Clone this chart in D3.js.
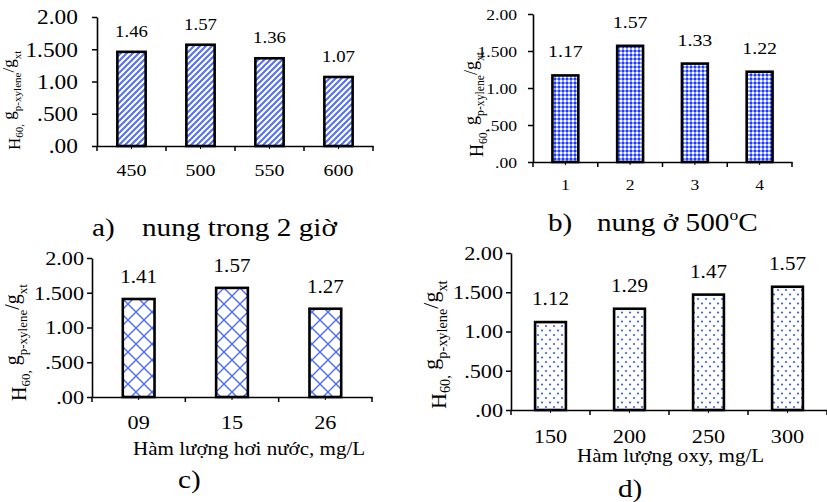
<!DOCTYPE html>
<html><head><meta charset="utf-8">
<script src="https://cdn.jsdelivr.net/npm/d3@7"></script>
<style>html,body{margin:0;padding:0;background:#fff;}svg{display:block;}</style>
</head><body>
<svg id="chart" width="827" height="502"></svg>
<script>
// ---- data ----
const catsA = ["450", "500", "550", "600"];
const valsA = [1.46, 1.57, 1.36, 1.07];
const catsB = ["1", "2", "3", "4"];
const valsB = [1.17, 1.57, 1.33, 1.22];
const catsC = ["09", "15", "26"];
const valsC = [1.41, 1.57, 1.27];
const catsD = ["150", "200", "250", "300"];
const valsD = [1.12, 1.29, 1.47, 1.57];
const yTicks = [0, 0.5, 1, 1.5, 2];
const yTickLabels = [".00", ".500", "1.00", "1.500", "2.00"];
const captionA = ["a)", "nung trong 2 giờ"];
const captionB = ["b)", "nung ở 500", "o", "C"];
const captionC = "c)";
const captionD = "d)";
const xTitleC = "Hàm lượng hơi nước, mg/L";
const xTitleD = "Hàm lượng oxy, mg/L";
const yTitleParts = [["H",1,0],["60,",0.65,0.2],[" ",1,0],["g",1,-0.36],["p-xylene",0.65,0.05],["/g",1,-0.36],["xt",0.65,0.05]];

const FONT = "'Liberation Serif','Times New Roman',serif";
const SX = 1.17;
const svg = d3.select("#chart");
const defs = svg.append("defs");

// patterns
const pA = defs.append("pattern").attr("id","patA").attr("patternUnits","userSpaceOnUse").attr("width",6).attr("height",6);
pA.append("rect").attr("width",6).attr("height",6).attr("fill","#fff");
pA.append("path").attr("d","M-1,7 L7,-1 M-4,4 L4,-4 M2,10 L10,2").attr("stroke","#5370f4").attr("stroke-width",2);

const pB = defs.append("pattern").attr("id","patB").attr("patternUnits","userSpaceOnUse").attr("width",4).attr("height",4);
pB.append("rect").attr("width",4).attr("height",4).attr("fill","#1f3dfa");
pB.append("rect").attr("x",0).attr("y",0).attr("width",2).attr("height",2).attr("fill","#ffffff");
pB.append("rect").attr("x",2).attr("y",0).attr("width",2).attr("height",2).attr("fill","#8a9cff");
pB.append("rect").attr("x",0).attr("y",2).attr("width",2).attr("height",2).attr("fill","#8a9cff");

const pC = defs.append("pattern").attr("id","patC").attr("patternUnits","userSpaceOnUse").attr("width",16).attr("height",16);
pC.append("rect").attr("width",16).attr("height",16).attr("fill","#fff");
pC.append("path").attr("d","M0,0 L16,16 M16,0 L0,16").attr("stroke","#4c6cf5").attr("stroke-width",1.4);

const pD = defs.append("pattern").attr("id","patD").attr("patternUnits","userSpaceOnUse").attr("width",8).attr("height",9);
pD.append("rect").attr("width",8).attr("height",9).attr("fill","#fff");
pD.append("circle").attr("cx",2).attr("cy",2).attr("r",1.1).attr("fill","#3a5cf5");
pD.append("circle").attr("cx",6).attr("cy",6.5).attr("r",1.1).attr("fill","#3a5cf5");

function stxt(g, x, y, str, size, anchor) {
  return g.append("text").attr("transform", `translate(${x},${y}) scale(${SX},1)`)
    .attr("font-family", FONT).attr("font-size", size).attr("text-anchor", anchor || "start")
    .attr("fill", "#000").text(str);
}

function panel(cfg) {
  const g = svg.append("g");
  const x = d3.scaleBand().domain(cfg.cats).range([cfg.x0, cfg.x1]).padding(0);
  const y = d3.scaleLinear().domain([0, 2]).range([cfg.y0, cfg.y2]);
  const bw = x.bandwidth() * cfg.bar;
  const data = cfg.cats.map((c, i) => ({c, v: cfg.vals[i]}));

  // bars
  g.selectAll("rect.bar").data(data).join("rect").attr("class","bar")
    .attr("x", d => x(d.c) + (x.bandwidth() - bw) / 2)
    .attr("width", bw)
    .attr("y", d => y(d.v))
    .attr("height", d => y(0) - y(d.v))
    .attr("fill", `url(#${cfg.pat})`)
    .attr("stroke", "#000").attr("stroke-width", 2.6);

  // value labels
  data.forEach(d => {
    stxt(g, x(d.c) + x.bandwidth() / 2, y(d.v) - cfg.lblOff, d.v.toFixed(2), cfg.lblSize, "middle");
  });

  // y axis
  const ya = g.append("g").attr("transform", `translate(${cfg.x0},0)`)
    .call(d3.axisLeft(y).tickValues(yTicks).tickFormat((d, i) => yTickLabels[i]).tickSize(5).tickSizeOuter(0));
  ya.select(".domain").attr("stroke", "#000").attr("stroke-width", 1.6);
  ya.selectAll(".tick line").attr("stroke", "#000").attr("stroke-width", 1.5);
  ya.selectAll(".tick text").attr("font-family", FONT).attr("font-size", cfg.yTickSize).attr("fill", "#000")
    .attr("x", -cfg.yLblGap / SX).attr("dy", "0.34em").attr("transform", `scale(${SX},1)`);

  // x axis (domain line + labels at band centres)
  const xa = g.append("g").attr("transform", `translate(0,${cfg.y0})`)
    .call(d3.axisBottom(x).tickSize(0).tickSizeOuter(0).tickPadding(0));
  xa.select(".domain").attr("stroke", "#000").attr("stroke-width", 1.6);
  xa.selectAll(".tick line").remove();
  xa.selectAll(".tick text").attr("font-family", FONT).attr("font-size", cfg.xTickSize).attr("fill", "#000")
    .attr("y", cfg.xLblY).attr("dy", 0).attr("transform", `scale(${SX},1)`);
  // boundary ticks
  const bounds = d3.range(cfg.cats.length + 1).map(i => cfg.x0 + i * x.step());
  g.selectAll("line.bt").data(bounds).join("line").attr("class","bt")
    .attr("x1", d => d).attr("x2", d => d).attr("y1", cfg.y0).attr("y2", cfg.y0 + 5)
    .attr("stroke", "#000").attr("stroke-width", 1.5);
  // minor ticks at centres
  g.selectAll("line.mt").data(cfg.cats).join("line").attr("class","mt")
    .attr("x1", d => x(d) + x.bandwidth() / 2).attr("x2", d => x(d) + x.bandwidth() / 2)
    .attr("y1", cfg.y0).attr("y2", cfg.y0 + 3)
    .attr("stroke", "#000").attr("stroke-width", 1);

  // y title
  const t = g.append("text").attr("transform", `translate(${cfg.tx},${cfg.ty}) rotate(-90)`)
    .attr("font-family", FONT).attr("font-size", cfg.tSize).attr("fill", "#000");
  let prev = 0;
  yTitleParts.forEach(([s, k, sh]) => {
    t.append("tspan").attr("font-size", cfg.tSize * k).attr("dy", (sh - prev) * cfg.tSize).text(s);
    prev = sh;
  });
  return g;
}

panel({cats: catsA, vals: valsA, pat: "patA", x0: 97, x1: 373, y0: 146, y2: 17, bar: 0.41,
  lblOff: 15, lblSize: 16, yTickSize: 20, yLblGap: 19, xTickSize: 17, xLblY: 30,
  tx: 20, ty: 150, tSize: 17});
panel({cats: catsB, vals: valsB, pat: "patB", x0: 533, x1: 792, y0: 162, y2: 14, bar: 0.4,
  lblOff: 18, lblSize: 17, yTickSize: 15, yLblGap: 16, xTickSize: 15, xLblY: 28,
  tx: 483, ty: 157, tSize: 18});
panel({cats: catsC, vals: valsC, pat: "patC", x0: 92, x1: 372, y0: 397, y2: 258, bar: 0.34,
  lblOff: 16, lblSize: 18, yTickSize: 19, yLblGap: 8, xTickSize: 19, xLblY: 32,
  tx: 26, ty: 401, tSize: 20});
panel({cats: catsD, vals: valsD, pat: "patD", x0: 511, x1: 827, y0: 410, y2: 253, bar: 0.39,
  lblOff: 17, lblSize: 18, yTickSize: 19, yLblGap: 8, xTickSize: 19, xLblY: 33,
  tx: 446, ty: 409, tSize: 22});

// captions and axis titles
const cap = svg.append("g");
stxt(cap, 92, 236, captionA[0], 25);
stxt(cap, 142, 236, captionA[1], 25);
stxt(cap, 548, 231, captionB[0], 25);
const tb = stxt(cap, 597, 231, captionB[1], 25);
tb.append("tspan").attr("font-size", 15).attr("dy", -11).text(captionB[2]);
tb.append("tspan").attr("dy", 11).text(captionB[3]);
stxt(cap, 133, 455, xTitleC, 18);
stxt(cap, 577, 462, xTitleD, 18);
stxt(cap, 178, 488, captionC, 25);
stxt(cap, 618, 497, captionD, 25);
</script>
</body></html>
